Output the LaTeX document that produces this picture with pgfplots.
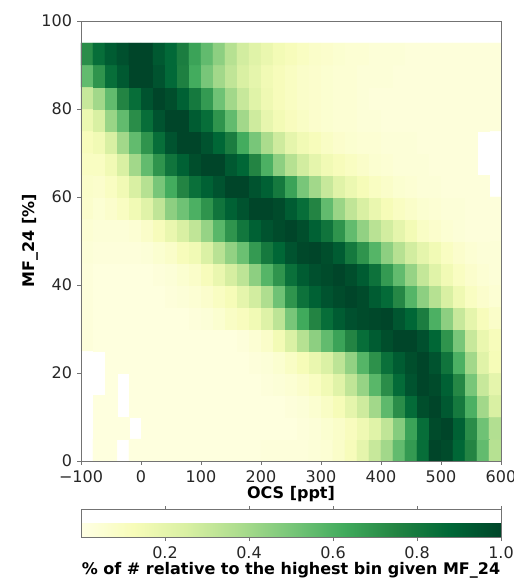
\documentclass[border=0pt]{standalone}
\usepackage{pgfplots}
\pgfplotsset{compat=1.18}
\usepackage{fontspec}
\setmainfont{DejaVu Sans}
\begin{document}
\fontsize{16}{19}\selectfont
\begin{tikzpicture}
\begin{axis}[
  scale only axis, width=420pt, height=440pt,
  xmin=-100, xmax=600, ymin=0, ymax=100,
  xtick={-100,0,100,200,300,400,500,600},
  xticklabels={−100,0,100,200,300,400,500,600},
  ytick={0,20,40,60,80,100},
  /pgf/number format/assume math mode=true,
  tick align=outside, tick pos=left,
  major tick length=3.5pt,
  axis line style={black!55},
  every tick/.style={black!55, line width=0.8pt},
  ticklabel style={text=black!85},
  xticklabel style={yshift=-1pt},
  xlabel={\textbf{OCS [ppt]}}, ylabel={\textbf{MF\_24 [\%]}},
  xlabel style={at={(axis description cs:0.5,-0.076)}, anchor=center},
  ylabel style={at={(axis description cs:-0.1214,0.5)}, anchor=center, rotate=0},
  colormap={ylgn}{rgb255=(255,255,229) rgb255=(247,252,185) rgb255=(217,240,163) rgb255=(173,221,142) rgb255=(120,198,121) rgb255=(65,171,93) rgb255=(35,132,67) rgb255=(0,104,55) rgb255=(0,69,41)},
  point meta min=0, point meta max=1,
  colorbar horizontal,
  colorbar style={
    at={(parent axis.south west)}, anchor=north west, yshift=-40pt,
    scale only axis, width=420pt, height=28pt,
    xtick={0.2,0.4,0.6,0.8,1.0},
    xticklabel style={/pgf/number format/fixed, /pgf/number format/fixed zerofill, /pgf/number format/precision=1, text=black!85},
    /pgf/number format/assume math mode=true,
    tick align=outside, major tick length=3.5pt,
    axis line style={black!55},
    every tick/.style={black!55, line width=0.8pt},
    xlabel={\textbf{\% of \# relative to the highest bin given MF\_24}},
    xlabel style={at={(axis description cs:0.5,-1.18)}, anchor=center},
  },
  unbounded coords=jump,
  axis on top,
]
\addplot[matrix plot*, point meta=explicit, mesh/cols=35] coordinates {
(-90,2.5)[nan] (-70,2.5)[0.02] (-50,2.5)[0.02] (-30,2.5)[nan] (-10,2.5)[0.02] (10,2.5)[0.02] (30,2.5)[0.02] (50,2.5)[0.02] (70,2.5)[0.02] (90,2.5)[0.02] (110,2.5)[0.02] (130,2.5)[0.02] (150,2.5)[0.02] (170,2.5)[0.02] (190,2.5)[0.02] (210,2.5)[0.03] (230,2.5)[0.03] (250,2.5)[0.03] (270,2.5)[0.03] (290,2.5)[0.04] (310,2.5)[0.05] (330,2.5)[0.08] (350,2.5)[0.12] (370,2.5)[0.2] (390,2.5)[0.3] (410,2.5)[0.4] (430,2.5)[0.55] (450,2.5)[0.68] (470,2.5)[0.85] (490,2.5)[1.0] (510,2.5)[0.98] (530,2.5)[0.88] (550,2.5)[0.75] (570,2.5)[0.55] (590,2.5)[0.35]
(-90,7.5)[nan] (-70,7.5)[0.02] (-50,7.5)[0.02] (-30,7.5)[0.02] (-10,7.5)[nan] (10,7.5)[0.02] (30,7.5)[0.02] (50,7.5)[0.02] (70,7.5)[0.02] (90,7.5)[0.02] (110,7.5)[0.02] (130,7.5)[0.02] (150,7.5)[0.02] (170,7.5)[0.02] (190,7.5)[0.02] (210,7.5)[0.02] (230,7.5)[0.02] (250,7.5)[0.02] (270,7.5)[0.03] (290,7.5)[0.04] (310,7.5)[0.06] (330,7.5)[0.08] (350,7.5)[0.11] (370,7.5)[0.16] (390,7.5)[0.22] (410,7.5)[0.32] (430,7.5)[0.47] (450,7.5)[0.65] (470,7.5)[0.85] (490,7.5)[0.98] (510,7.5)[1.0] (530,7.5)[0.9] (550,7.5)[0.72] (570,7.5)[0.52] (590,7.5)[0.36]
(-90,12.5)[nan] (-70,12.5)[0.02] (-50,12.5)[0.02] (-30,12.5)[nan] (-10,12.5)[0.02] (10,12.5)[0.02] (30,12.5)[0.02] (50,12.5)[0.02] (70,12.5)[0.02] (90,12.5)[0.02] (110,12.5)[0.02] (130,12.5)[0.02] (150,12.5)[0.02] (170,12.5)[0.02] (190,12.5)[0.02] (210,12.5)[0.02] (230,12.5)[0.02] (250,12.5)[0.03] (270,12.5)[0.04] (290,12.5)[0.06] (310,12.5)[0.09] (330,12.5)[0.13] (350,12.5)[0.2] (370,12.5)[0.28] (390,12.5)[0.4] (410,12.5)[0.56] (430,12.5)[0.72] (450,12.5)[0.86] (470,12.5)[0.97] (490,12.5)[1.0] (510,12.5)[0.93] (530,12.5)[0.8] (550,12.5)[0.6] (570,12.5)[0.4] (590,12.5)[0.25]
(-90,17.5)[nan] (-70,17.5)[nan] (-50,17.5)[0.02] (-30,17.5)[nan] (-10,17.5)[0.02] (10,17.5)[0.02] (30,17.5)[0.02] (50,17.5)[0.02] (70,17.5)[0.02] (90,17.5)[0.02] (110,17.5)[0.02] (130,17.5)[0.02] (150,17.5)[0.02] (170,17.5)[0.02] (190,17.5)[0.02] (210,17.5)[0.03] (230,17.5)[0.04] (250,17.5)[0.05] (270,17.5)[0.07] (290,17.5)[0.1] (310,17.5)[0.15] (330,17.5)[0.22] (350,17.5)[0.32] (370,17.5)[0.43] (390,17.5)[0.57] (410,17.5)[0.72] (430,17.5)[0.86] (450,17.5)[0.95] (470,17.5)[1.0] (490,17.5)[0.98] (510,17.5)[0.9] (530,17.5)[0.74] (550,17.5)[0.5] (570,17.5)[0.3] (590,17.5)[0.2]
(-90,22.5)[nan] (-70,22.5)[nan] (-50,22.5)[0.02] (-30,22.5)[0.02] (-10,22.5)[0.02] (10,22.5)[0.02] (30,22.5)[0.02] (50,22.5)[0.02] (70,22.5)[0.02] (90,22.5)[0.02] (110,22.5)[0.02] (130,22.5)[0.02] (150,22.5)[0.02] (170,22.5)[0.02] (190,22.5)[0.03] (210,22.5)[0.04] (230,22.5)[0.06] (250,22.5)[0.09] (270,22.5)[0.13] (290,22.5)[0.18] (310,22.5)[0.24] (330,22.5)[0.33] (350,22.5)[0.44] (370,22.5)[0.58] (390,22.5)[0.71] (410,22.5)[0.84] (430,22.5)[0.92] (450,22.5)[0.97] (470,22.5)[1.0] (490,22.5)[0.95] (510,22.5)[0.82] (530,22.5)[0.6] (550,22.5)[0.4] (570,22.5)[0.22] (590,22.5)[0.13]
(-90,27.5)[0.03] (-70,27.5)[0.02] (-50,27.5)[0.02] (-30,27.5)[0.02] (-10,27.5)[0.02] (10,27.5)[0.02] (30,27.5)[0.02] (50,27.5)[0.02] (70,27.5)[0.02] (90,27.5)[0.02] (110,27.5)[0.02] (130,27.5)[0.02] (150,27.5)[0.02] (170,27.5)[0.03] (190,27.5)[0.05] (210,27.5)[0.08] (230,27.5)[0.14] (250,27.5)[0.24] (270,27.5)[0.35] (290,27.5)[0.45] (310,27.5)[0.55] (330,27.5)[0.65] (350,27.5)[0.75] (370,27.5)[0.85] (390,27.5)[0.92] (410,27.5)[0.97] (430,27.5)[1.0] (450,27.5)[1.0] (470,27.5)[0.96] (490,27.5)[0.88] (510,27.5)[0.7] (530,27.5)[0.5] (550,27.5)[0.3] (570,27.5)[0.18] (590,27.5)[0.12]
(-90,32.5)[0.03] (-70,32.5)[0.02] (-50,32.5)[0.02] (-30,32.5)[0.02] (-10,32.5)[0.02] (10,32.5)[0.02] (30,32.5)[0.02] (50,32.5)[0.02] (70,32.5)[0.02] (90,32.5)[0.03] (110,32.5)[0.04] (130,32.5)[0.06] (150,32.5)[0.09] (170,32.5)[0.11] (190,32.5)[0.15] (210,32.5)[0.23] (230,32.5)[0.33] (250,32.5)[0.5] (270,32.5)[0.63] (290,32.5)[0.75] (310,32.5)[0.85] (330,32.5)[0.92] (350,32.5)[0.96] (370,32.5)[0.98] (390,32.5)[0.99] (410,32.5)[1.0] (430,32.5)[0.94] (450,32.5)[0.88] (470,32.5)[0.78] (490,32.5)[0.6] (510,32.5)[0.45] (530,32.5)[0.3] (550,32.5)[0.2] (570,32.5)[0.12] (590,32.5)[0.08]
(-90,37.5)[0.03] (-70,37.5)[0.02] (-50,37.5)[0.02] (-30,37.5)[0.02] (-10,37.5)[0.02] (10,37.5)[0.02] (30,37.5)[0.02] (50,37.5)[0.03] (70,37.5)[0.04] (90,37.5)[0.05] (110,37.5)[0.07] (130,37.5)[0.1] (150,37.5)[0.13] (170,37.5)[0.2] (190,37.5)[0.27] (210,37.5)[0.37] (230,37.5)[0.52] (250,37.5)[0.7] (270,37.5)[0.83] (290,37.5)[0.9] (310,37.5)[0.95] (330,37.5)[0.98] (350,37.5)[1.0] (370,37.5)[0.98] (390,37.5)[0.92] (410,37.5)[0.86] (430,37.5)[0.74] (450,37.5)[0.58] (470,37.5)[0.45] (490,37.5)[0.35] (510,37.5)[0.25] (530,37.5)[0.16] (550,37.5)[0.1] (570,37.5)[0.07] (590,37.5)[0.05]
(-90,42.5)[0.03] (-70,42.5)[0.02] (-50,42.5)[0.02] (-30,42.5)[0.02] (-10,42.5)[0.02] (10,42.5)[0.02] (30,42.5)[0.03] (50,42.5)[0.04] (70,42.5)[0.06] (90,42.5)[0.08] (110,42.5)[0.12] (130,42.5)[0.18] (150,42.5)[0.26] (170,42.5)[0.33] (190,42.5)[0.45] (210,42.5)[0.58] (230,42.5)[0.7] (250,42.5)[0.84] (270,42.5)[0.92] (290,42.5)[0.96] (310,42.5)[0.98] (330,42.5)[1.0] (350,42.5)[0.97] (370,42.5)[0.92] (390,42.5)[0.83] (410,42.5)[0.68] (430,42.5)[0.55] (450,42.5)[0.43] (470,42.5)[0.31] (490,42.5)[0.22] (510,42.5)[0.15] (530,42.5)[0.1] (550,42.5)[0.07] (570,42.5)[0.05] (590,42.5)[0.04]
(-90,47.5)[0.04] (-70,47.5)[0.03] (-50,47.5)[0.03] (-30,47.5)[0.03] (-10,47.5)[0.03] (10,47.5)[0.04] (30,47.5)[0.06] (50,47.5)[0.08] (70,47.5)[0.12] (90,47.5)[0.15] (110,47.5)[0.24] (130,47.5)[0.34] (150,47.5)[0.44] (170,47.5)[0.53] (190,47.5)[0.68] (210,47.5)[0.8] (230,47.5)[0.88] (250,47.5)[0.95] (270,47.5)[0.99] (290,47.5)[1.0] (310,47.5)[0.97] (330,47.5)[0.92] (350,47.5)[0.8] (370,47.5)[0.7] (390,47.5)[0.58] (410,47.5)[0.45] (430,47.5)[0.35] (450,47.5)[0.27] (470,47.5)[0.2] (490,47.5)[0.15] (510,47.5)[0.1] (530,47.5)[0.07] (550,47.5)[0.05] (570,47.5)[0.04] (590,47.5)[0.04]
(-90,52.5)[0.05] (-70,52.5)[0.04] (-50,52.5)[0.04] (-30,52.5)[0.04] (-10,52.5)[0.05] (10,52.5)[0.08] (30,52.5)[0.12] (50,52.5)[0.18] (70,52.5)[0.25] (90,52.5)[0.32] (110,52.5)[0.43] (130,52.5)[0.57] (150,52.5)[0.7] (170,52.5)[0.81] (190,52.5)[0.9] (210,52.5)[0.95] (230,52.5)[0.98] (250,52.5)[1.0] (270,52.5)[0.97] (290,52.5)[0.9] (310,52.5)[0.82] (330,52.5)[0.7] (350,52.5)[0.55] (370,52.5)[0.44] (390,52.5)[0.34] (410,52.5)[0.27] (430,52.5)[0.2] (450,52.5)[0.14] (470,52.5)[0.09] (490,52.5)[0.07] (510,52.5)[0.05] (530,52.5)[0.04] (550,52.5)[0.03] (570,52.5)[0.03] (590,52.5)[0.03]
(-90,57.5)[0.07] (-70,57.5)[0.05] (-50,57.5)[0.07] (-30,57.5)[0.1] (-10,57.5)[0.15] (10,57.5)[0.22] (30,57.5)[0.32] (50,57.5)[0.45] (70,57.5)[0.52] (90,57.5)[0.6] (110,57.5)[0.7] (130,57.5)[0.82] (150,57.5)[0.9] (170,57.5)[0.95] (190,57.5)[1.0] (210,57.5)[1.0] (230,57.5)[0.98] (250,57.5)[0.92] (270,57.5)[0.85] (290,57.5)[0.75] (310,57.5)[0.55] (330,57.5)[0.42] (350,57.5)[0.32] (370,57.5)[0.25] (390,57.5)[0.18] (410,57.5)[0.13] (430,57.5)[0.1] (450,57.5)[0.08] (470,57.5)[0.06] (490,57.5)[0.05] (510,57.5)[0.04] (530,57.5)[0.04] (550,57.5)[0.03] (570,57.5)[0.03] (590,57.5)[0.03]
(-90,62.5)[0.08] (-70,62.5)[0.07] (-50,62.5)[0.1] (-30,62.5)[0.15] (-10,62.5)[0.25] (10,62.5)[0.35] (30,62.5)[0.5] (50,62.5)[0.62] (70,62.5)[0.75] (90,62.5)[0.84] (110,62.5)[0.9] (130,62.5)[0.95] (150,62.5)[1.0] (170,62.5)[1.0] (190,62.5)[0.95] (210,62.5)[0.9] (230,62.5)[0.8] (250,62.5)[0.65] (270,62.5)[0.5] (290,62.5)[0.4] (310,62.5)[0.3] (330,62.5)[0.22] (350,62.5)[0.17] (370,62.5)[0.13] (390,62.5)[0.1] (410,62.5)[0.08] (430,62.5)[0.06] (450,62.5)[0.05] (470,62.5)[0.04] (490,62.5)[0.04] (510,62.5)[0.03] (530,62.5)[0.03] (550,62.5)[0.03] (570,62.5)[0.03] (590,62.5)[nan]
(-90,67.5)[0.1] (-70,67.5)[0.1] (-50,67.5)[0.15] (-30,67.5)[0.25] (-10,67.5)[0.4] (10,67.5)[0.55] (30,67.5)[0.7] (50,67.5)[0.82] (70,67.5)[0.9] (90,67.5)[0.97] (110,67.5)[1.0] (130,67.5)[1.0] (150,67.5)[0.93] (170,67.5)[0.88] (190,67.5)[0.75] (210,67.5)[0.6] (230,67.5)[0.45] (250,67.5)[0.35] (270,67.5)[0.27] (290,67.5)[0.2] (310,67.5)[0.15] (330,67.5)[0.12] (350,67.5)[0.1] (370,67.5)[0.08] (390,67.5)[0.06] (410,67.5)[0.05] (430,67.5)[0.04] (450,67.5)[0.04] (470,67.5)[0.04] (490,67.5)[0.03] (510,67.5)[0.03] (530,67.5)[0.03] (550,67.5)[0.03] (570,67.5)[nan] (590,67.5)[nan]
(-90,72.5)[0.12] (-70,72.5)[0.15] (-50,72.5)[0.25] (-30,72.5)[0.4] (-10,72.5)[0.55] (10,72.5)[0.7] (30,72.5)[0.85] (50,72.5)[0.95] (70,72.5)[1.0] (90,72.5)[1.0] (110,72.5)[0.95] (130,72.5)[0.88] (150,72.5)[0.78] (170,72.5)[0.62] (190,72.5)[0.5] (210,72.5)[0.38] (230,72.5)[0.28] (250,72.5)[0.2] (270,72.5)[0.15] (290,72.5)[0.12] (310,72.5)[0.09] (330,72.5)[0.07] (350,72.5)[0.06] (370,72.5)[0.05] (390,72.5)[0.05] (410,72.5)[0.04] (430,72.5)[0.04] (450,72.5)[0.04] (470,72.5)[0.03] (490,72.5)[0.03] (510,72.5)[0.03] (530,72.5)[0.03] (550,72.5)[0.03] (570,72.5)[nan] (590,72.5)[nan]
(-90,77.5)[0.17] (-70,77.5)[0.25] (-50,77.5)[0.42] (-30,77.5)[0.55] (-10,77.5)[0.72] (10,77.5)[0.85] (30,77.5)[0.95] (50,77.5)[1.0] (70,77.5)[1.0] (90,77.5)[0.92] (110,77.5)[0.85] (130,77.5)[0.7] (150,77.5)[0.55] (170,77.5)[0.4] (190,77.5)[0.28] (210,77.5)[0.19] (230,77.5)[0.14] (250,77.5)[0.11] (270,77.5)[0.09] (290,77.5)[0.07] (310,77.5)[0.06] (330,77.5)[0.05] (350,77.5)[0.05] (370,77.5)[0.04] (390,77.5)[0.04] (410,77.5)[0.03] (430,77.5)[0.03] (450,77.5)[0.03] (470,77.5)[0.03] (490,77.5)[0.03] (510,77.5)[0.03] (530,77.5)[0.03] (550,77.5)[0.03] (570,77.5)[0.03] (590,77.5)[0.03]
(-90,82.5)[0.3] (-70,82.5)[0.4] (-50,82.5)[0.55] (-30,82.5)[0.75] (-10,82.5)[0.85] (10,82.5)[0.95] (30,82.5)[1.0] (50,82.5)[0.97] (70,82.5)[0.9] (90,82.5)[0.8] (110,82.5)[0.68] (130,82.5)[0.52] (150,82.5)[0.4] (170,82.5)[0.3] (190,82.5)[0.22] (210,82.5)[0.16] (230,82.5)[0.12] (250,82.5)[0.1] (270,82.5)[0.08] (290,82.5)[0.07] (310,82.5)[0.06] (330,82.5)[0.05] (350,82.5)[0.05] (370,82.5)[0.04] (390,82.5)[0.03] (410,82.5)[0.03] (430,82.5)[0.03] (450,82.5)[0.03] (470,82.5)[0.03] (490,82.5)[0.03] (510,82.5)[0.03] (530,82.5)[0.03] (550,82.5)[0.03] (570,82.5)[0.03] (590,82.5)[0.03]
(-90,87.5)[0.55] (-70,87.5)[0.7] (-50,87.5)[0.85] (-30,87.5)[0.93] (-10,87.5)[1.0] (10,87.5)[1.0] (30,87.5)[0.95] (50,87.5)[0.87] (70,87.5)[0.77] (90,87.5)[0.62] (110,87.5)[0.5] (130,87.5)[0.4] (150,87.5)[0.32] (170,87.5)[0.25] (190,87.5)[0.2] (210,87.5)[0.15] (230,87.5)[0.12] (250,87.5)[0.1] (270,87.5)[0.08] (290,87.5)[0.07] (310,87.5)[0.06] (330,87.5)[0.05] (350,87.5)[0.05] (370,87.5)[0.04] (390,87.5)[0.04] (410,87.5)[0.04] (430,87.5)[0.03] (450,87.5)[0.03] (470,87.5)[0.03] (490,87.5)[0.03] (510,87.5)[0.03] (530,87.5)[0.03] (550,87.5)[0.03] (570,87.5)[0.03] (590,87.5)[0.03]
(-90,92.5)[0.72] (-70,92.5)[0.85] (-50,92.5)[0.92] (-30,92.5)[0.96] (-10,92.5)[1.0] (10,92.5)[1.0] (30,92.5)[0.93] (50,92.5)[0.87] (70,92.5)[0.78] (90,92.5)[0.65] (110,92.5)[0.55] (130,92.5)[0.45] (150,92.5)[0.35] (170,92.5)[0.27] (190,92.5)[0.22] (210,92.5)[0.18] (230,92.5)[0.14] (250,92.5)[0.12] (270,92.5)[0.1] (290,92.5)[0.08] (310,92.5)[0.07] (330,92.5)[0.06] (350,92.5)[0.05] (370,92.5)[0.05] (390,92.5)[0.04] (410,92.5)[0.04] (430,92.5)[0.04] (450,92.5)[0.03] (470,92.5)[0.03] (490,92.5)[0.03] (510,92.5)[0.03] (530,92.5)[0.03] (550,92.5)[0.03] (570,92.5)[0.03] (590,92.5)[0.03]
};
\end{axis}
\pgfresetboundingbox
\path[use as bounding box] (-81pt,-120pt) rectangle (433pt,461pt);
\end{tikzpicture}
\end{document}
